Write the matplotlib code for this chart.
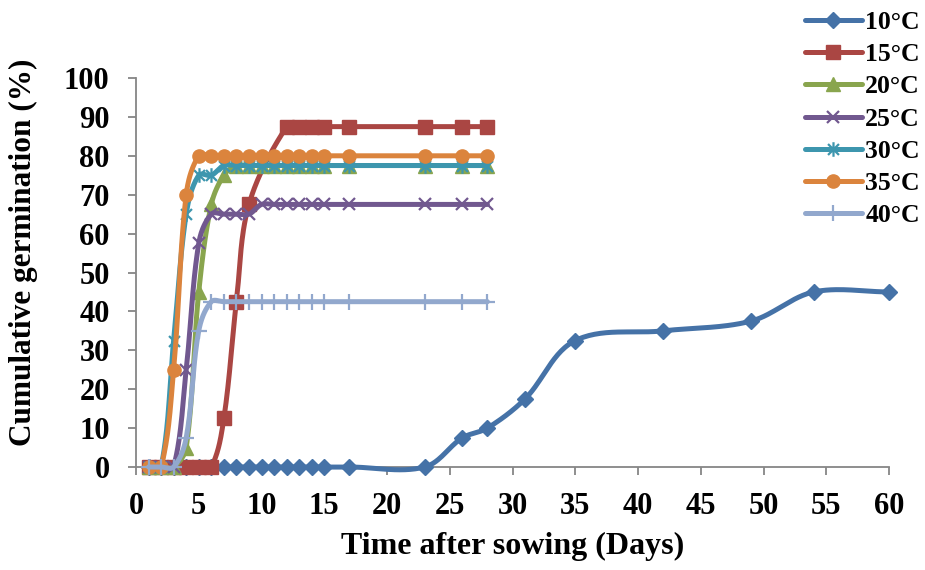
import numpy as np
import matplotlib
matplotlib.use("Agg")
import matplotlib.pyplot as plt
from matplotlib.path import Path

plt.rcParams['font.family'] = ['Liberation Serif', 'DejaVu Serif']
plt.rcParams['font.weight'] = 'bold'

# ---------------- data ----------------
days_10 = [1, 2, 3, 4, 5, 6, 7, 8, 9, 10, 11, 12, 13, 14, 15, 17, 23, 26, 28, 31, 35, 42, 49, 54, 60]
vals_10 = [0, 0, 0, 0, 0, 0, 0, 0, 0, 0, 0, 0, 0, 0, 0, 0, 0, 7.5, 10, 17.5, 32.5, 35, 37.5, 45, 45]

days_15 = [1, 2, 3, 4, 5, 6, 7, 8, 9, 12, 13, 14, 15, 17, 23, 26, 28]
vals_15 = [0, 0, 0, 0, 0, 0, 12.5, 42.5, 67.5, 87.5, 87.5, 87.5, 87.5, 87.5, 87.5, 87.5, 87.5]

days_std = [1, 2, 3, 4, 5, 6, 7, 8, 9, 10, 11, 12, 13, 14, 15, 17, 23, 26, 28]
vals_20 = [0, 0, 0, 5, 45, 67.5, 75, 77.5, 77.5, 77.5, 77.5, 77.5, 77.5, 77.5, 77.5, 77.5, 77.5, 77.5, 77.5]
vals_25 = [0, 0, 0, 25, 57.5, 65, 65, 65, 65, 67.5, 67.5, 67.5, 67.5, 67.5, 67.5, 67.5, 67.5, 67.5, 67.5]
vals_30 = [0, 0, 32.5, 65, 75, 75, 77.5, 77.5, 77.5, 77.5, 77.5, 77.5, 77.5, 77.5, 77.5, 77.5, 77.5, 77.5, 77.5]
vals_35 = [0, 0, 25, 70, 80, 80, 80, 80, 80, 80, 80, 80, 80, 80, 80, 80, 80, 80, 80]
vals_40 = [0, 0, 0, 7.5, 35, 42.5, 42.5, 42.5, 42.5, 42.5, 42.5, 42.5, 42.5, 42.5, 42.5, 42.5, 42.5, 42.5, 42.5]

labels = ['10°C', '15°C', '20°C', '25°C', '30°C', '35°C', '40°C']
x_ticks = list(range(0, 61, 5))
y_ticks = list(range(0, 101, 10))

# ---------------- styling ----------------
colors = ['#4572A7', '#AA4643', '#89A54E', '#71588F', '#3D96AE', '#DB843D', '#92A8CD']
asterisk = Path([(0, -1), (0, 1), (-0.75, -0.75), (0.75, 0.75), (-0.75, 0.75), (0.75, -0.75)],
                [Path.MOVETO, Path.LINETO, Path.MOVETO, Path.LINETO, Path.MOVETO, Path.LINETO])
markers = ['D', 's', '^', 'x', asterisk, 'o', '+']
msizes = [8.5, 9.5, 9.5, 8.5, 10.5, 9.5, 12]
filled = [True, True, True, False, False, True, False]

fig = plt.figure(figsize=(9.25, 5.7), dpi=100)
ax = fig.add_axes([136 / 925, 1 - 467 / 570, (889 - 136) / 925, (467 - 78) / 570])
ax.set_xlim(0, 60)
ax.set_ylim(0, 100)


def smooth(x, y, n=30):
    """Excel-like smoothed curve: Bezier segments computed in screen space,
    tangent along neighbours, handle length proportional to segment length."""
    P = ax.transData.transform(np.column_stack([x, y]).astype(float))
    m = len(P)
    T = np.zeros_like(P)
    for i in range(m):
        a = P[max(i - 1, 0)]
        b = P[min(i + 1, m - 1)]
        d = b - a
        nrm = np.hypot(*d)
        T[i] = d / nrm if nrm > 0 else 0
    out, idx = [], []
    for i in range(m - 1):
        p1, p2 = P[i], P[i + 1]
        L = np.hypot(*(p2 - p1))
        c1 = p1 + T[i] * L / 3.0
        c2 = p2 - T[i + 1] * L / 3.0
        t = np.linspace(0, 1, n, endpoint=False)[:, None]
        seg = ((1 - t) ** 3) * p1 + 3 * ((1 - t) ** 2) * t * c1 + 3 * (1 - t) * t ** 2 * c2 + t ** 3 * p2
        idx.append(len(out))
        out.extend(seg.tolist())
    idx.append(len(out))
    out.append(P[-1].tolist())
    out = ax.transData.inverted().transform(np.array(out))
    return out[:, 0], out[:, 1], idx


series = [(days_10, vals_10), (days_15, vals_15), (days_std, vals_20), (days_std, vals_25),
          (days_std, vals_30), (days_std, vals_35), (days_std, vals_40)]

for k, ((xd, yd), lab) in enumerate(zip(series, labels)):
    xs, ys, idx = smooth(xd, yd)
    c = colors[k]
    kw = dict(color=c, lw=3.6, marker=markers[k], markersize=msizes[k], markevery=idx,
              label=lab, solid_capstyle='round', clip_on=False, zorder=3 + k)
    if filled[k]:
        kw.update(markerfacecolor=c, markeredgecolor=c, markeredgewidth=1)
    else:
        kw.update(markerfacecolor='none', markeredgecolor=c, markeredgewidth=1.6)
    ax.plot(xs, ys, **kw)

ax.set_xticks(x_ticks)
ax.set_yticks(y_ticks)
for s in ['top', 'right']:
    ax.spines[s].set_visible(False)
for s in ['left', 'bottom']:
    ax.spines[s].set_color('#868686')
    ax.spines[s].set_linewidth(1.3)
ax.tick_params(axis='both', direction='out', length=6, width=1.3, color='#868686',
               labelsize=22)
ax.tick_params(axis='x', pad=12)
ax.tick_params(axis='y', pad=13)
for t in ax.get_xticklabels() + ax.get_yticklabels():
    t.set_fontweight('bold')

ax.set_xlabel('Time after sowing (Days)', fontsize=23, fontweight='bold', labelpad=8)
ax.set_ylabel('Cumulative germination (%)', fontsize=22.5, fontweight='bold')
ax.yaxis.set_label_coords(-98 / 753, (467 - 252) / 389)

leg = fig.legend(loc='upper left', bbox_to_anchor=(787 / 925, 1 + 7 / 570), frameon=False,
                 prop={'weight': 'bold', 'size': 18.5}, handlelength=2.2,
                 handletextpad=0.15, labelspacing=0.36, borderpad=0.2)

fig.savefig('out.png', dpi=100)
